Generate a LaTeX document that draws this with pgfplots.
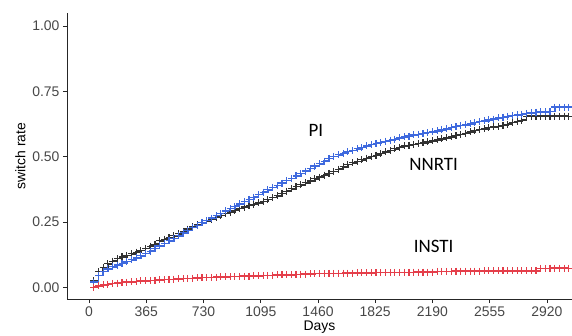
\documentclass[border=0pt]{standalone}
\usepackage{pgfplots}
\usepackage{pgfplotstable}
\pgfplotsset{compat=1.18}
\usepackage{fontspec}
\setmainfont{Liberation Sans}
\newfontfamily\calib{Carlito}
\definecolor{piblue}{RGB}{62,105,222}
\definecolor{nnblack}{RGB}{50,50,50}
\definecolor{inred}{RGB}{228,62,74}

\pgfplotstableread{
d v
30 0.020
60 0.045
90 0.060
120 0.070
150 0.078
180 0.085
210 0.092
240 0.099
270 0.105
300 0.112
330 0.120
360 0.129
390 0.138
420 0.148
450 0.158
480 0.168
510 0.178
540 0.187
570 0.197
600 0.208
630 0.218
660 0.229
690 0.238
720 0.247
750 0.256
780 0.265
810 0.274
840 0.283
870 0.292
900 0.301
930 0.310
960 0.319
990 0.328
1020 0.336
1050 0.345
1080 0.355
1110 0.364
1140 0.373
1170 0.382
1200 0.390
1230 0.399
1260 0.408
1290 0.417
1320 0.426
1350 0.436
1380 0.445
1410 0.455
1440 0.464
1470 0.473
1500 0.483
1530 0.493
1560 0.501
1590 0.507
1620 0.513
1650 0.519
1680 0.524
1710 0.530
1740 0.535
1770 0.541
1800 0.546
1830 0.551
1860 0.555
1890 0.559
1920 0.563
1950 0.567
1980 0.572
2010 0.576
2040 0.579
2070 0.583
2100 0.586
2130 0.589
2160 0.592
2190 0.595
2220 0.599
2250 0.603
2280 0.607
2310 0.611
2340 0.615
2370 0.619
2400 0.622
2430 0.626
2460 0.630
2490 0.634
2520 0.637
2550 0.641
2580 0.644
2610 0.648
2640 0.651
2670 0.655
2700 0.657
2730 0.660
2760 0.663
2790 0.666
2820 0.668
2850 0.670
2880 0.671
2910 0.672
2940 0.673
2970 0.690
3000 0.690
3030 0.690
3060 0.690
}\pidata

\pgfplotstableread{
d v
30 0.025
60 0.060
90 0.075
120 0.090
150 0.100
180 0.110
210 0.116
240 0.122
270 0.128
300 0.134
330 0.141
360 0.149
390 0.157
420 0.165
450 0.178
480 0.184
510 0.190
540 0.197
570 0.205
600 0.214
630 0.223
660 0.232
690 0.240
720 0.248
750 0.254
780 0.261
810 0.268
840 0.275
870 0.282
900 0.288
930 0.295
960 0.301
990 0.307
1020 0.313
1050 0.318
1080 0.323
1110 0.329
1140 0.336
1170 0.343
1200 0.350
1230 0.359
1260 0.368
1290 0.377
1320 0.385
1350 0.392
1380 0.400
1410 0.407
1440 0.415
1470 0.422
1500 0.429
1530 0.436
1560 0.443
1590 0.452
1620 0.461
1650 0.470
1680 0.476
1710 0.482
1740 0.488
1770 0.494
1800 0.500
1830 0.506
1860 0.512
1890 0.518
1920 0.524
1950 0.530
1980 0.536
2010 0.541
2040 0.544
2070 0.547
2100 0.550
2130 0.553
2160 0.557
2190 0.560
2220 0.564
2250 0.568
2280 0.572
2310 0.576
2340 0.581
2370 0.585
2400 0.590
2430 0.595
2460 0.600
2490 0.604
2520 0.607
2550 0.611
2580 0.614
2610 0.617
2640 0.620
2670 0.624
2700 0.630
2730 0.635
2760 0.640
2790 0.655
2820 0.655
2850 0.655
2880 0.655
2910 0.655
2940 0.655
2970 0.655
3000 0.655
3030 0.655
3060 0.655
}\nndata

\pgfplotstableread{
d v
30 0.000
60 0.005
90 0.009
120 0.012
150 0.015
180 0.016
210 0.018
240 0.020
270 0.021
300 0.022
330 0.024
360 0.025
390 0.026
420 0.027
450 0.028
480 0.029
510 0.030
540 0.031
570 0.032
600 0.033
630 0.034
660 0.035
690 0.036
720 0.037
750 0.038
780 0.038
810 0.039
840 0.040
870 0.040
900 0.041
930 0.041
960 0.042
990 0.042
1020 0.043
1050 0.044
1080 0.044
1110 0.045
1140 0.045
1170 0.046
1200 0.047
1230 0.047
1260 0.048
1290 0.048
1320 0.049
1350 0.050
1380 0.050
1410 0.051
1440 0.052
1470 0.052
1500 0.052
1530 0.053
1560 0.053
1590 0.053
1620 0.054
1650 0.054
1680 0.054
1710 0.055
1740 0.055
1770 0.055
1800 0.055
1830 0.056
1860 0.056
1890 0.056
1920 0.056
1950 0.057
1980 0.057
2010 0.057
2040 0.057
2070 0.058
2100 0.058
2130 0.058
2160 0.058
2190 0.058
2220 0.061
2250 0.061
2280 0.061
2310 0.061
2340 0.062
2370 0.062
2400 0.062
2430 0.062
2460 0.062
2490 0.062
2520 0.063
2550 0.063
2580 0.063
2610 0.063
2640 0.063
2670 0.063
2700 0.063
2730 0.063
2760 0.063
2790 0.063
2820 0.063
2850 0.063
2880 0.072
2910 0.072
2940 0.073
2970 0.073
3000 0.073
3030 0.073
3060 0.073
}\indata

\begin{document}
\begin{tikzpicture}
\begin{axis}[
  scale only axis,
  width=505bp, height=286bp,
  xmin=-141, xmax=3080,
  ymin=-0.045, ymax=1.05,
  axis x line*=bottom, axis y line*=left,
  axis line style={line width=1bp, black!85},
  xtick={0,365,730,1095,1460,1825,2190,2555,2920},
  ytick={0,0.25,0.5,0.75,1},
  /pgf/number format/set thousands separator={},
  yticklabel style={/pgf/number format/.cd,fixed,fixed zerofill,precision=2},
  /pgf/number format/assume math mode=true,
  tick style={black!85, line width=0.8bp},
  tick align=outside,
  major tick length=4bp,
  ticklabel style={font=\fontsize{14}{15}\selectfont, text=black!72},
  xlabel={Days}, ylabel={switch rate},
  label style={font=\fontsize{14}{15}\selectfont},
  xlabel style={yshift=2bp},
  clip=false,
  mark options={solid, line width=1.15bp},
]
\addplot[const plot, nnblack, line width=1.6bp, mark=+, mark size=3.5bp] table[x=d,y=v] {\nndata};
\addplot[const plot, piblue, line width=1.6bp, mark=+, mark size=3.5bp] table[x=d,y=v] {\pidata};
\addplot[const plot, inred, line width=1.6bp, mark=+, mark size=3.5bp] table[x=d,y=v] {\indata};
\node[font=\calib\fontsize{19}{20}\selectfont] at (axis cs:1447,0.60) {PI};
\node[font=\calib\fontsize{19}{20}\selectfont] at (axis cs:2197,0.469) {NNRTI};
\node[font=\calib\fontsize{19}{20}\selectfont] at (axis cs:2197,0.158) {INSTI};
\end{axis}
\pgfresetboundingbox
\path ([xshift=-67bp,yshift=-37bp]current axis.south west) rectangle ([yshift=13bp]current axis.north east);
\end{tikzpicture}
\end{document}
